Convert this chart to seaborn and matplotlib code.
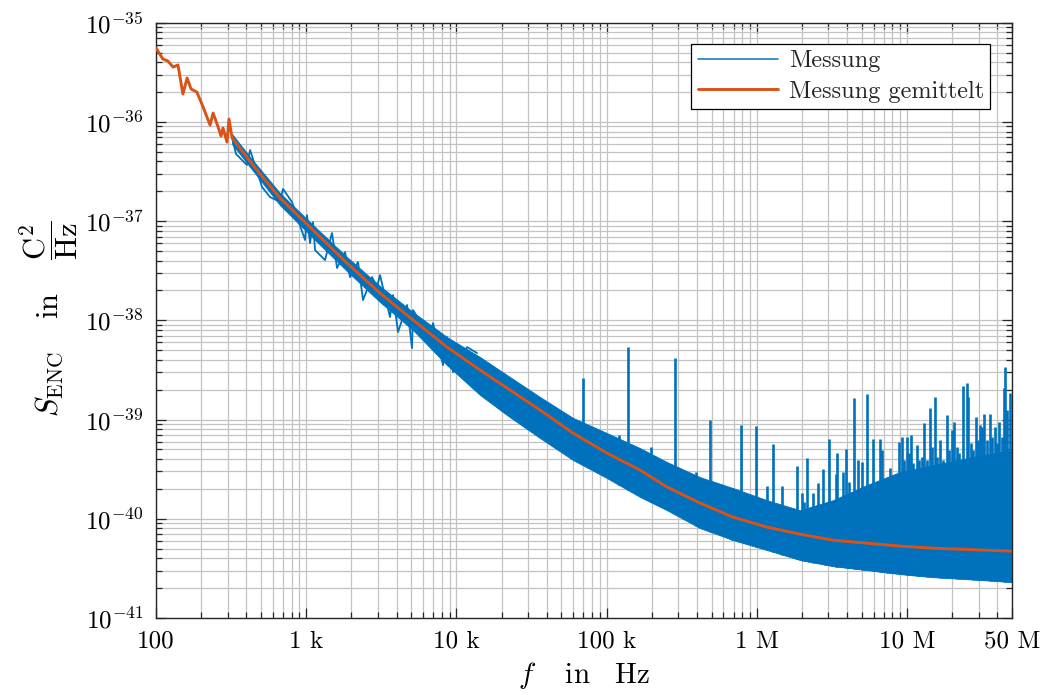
import numpy as np
import pandas as pd
import matplotlib
matplotlib.use("Agg")
import matplotlib.pyplot as plt
from matplotlib.lines import Line2D
import seaborn as sns

# averaged spectrum (Hz, C^2/Hz)
avg_f = [100, 111, 120, 130, 140, 151, 161, 171, 187, 206, 229, 240, 259, 271, 279,
         297, 306, 321, 470, 669, 1110, 1868, 3099, 5141, 8656, 14360, 21720, 36030,
         59760, 100600, 166900, 252500, 418600, 694300, 1.169e6, 1.939e6, 3.217e6,
         5.415e6, 8.98e6, 1.49e7, 3.21e7, 5.0e7]
avg_s = [5.56e-36, 4.31e-36, 4.11e-36, 3.57e-36, 3.75e-36, 1.91e-36, 2.77e-36, 2.15e-36,
         2.00e-36, 1.41e-36, 9.3e-37, 1.23e-36, 8.89e-37, 7.21e-37, 8.69e-37, 6.27e-37,
         1.07e-36, 6.89e-37, 3.27e-37, 1.71e-37, 8.13e-38, 3.78e-38, 1.88e-38, 1.01e-38,
         5.38e-39, 3.16e-39, 2.08e-39, 1.25e-39, 7.31e-40, 4.59e-40, 3.10e-40, 2.09e-40,
         1.44e-40, 1.04e-40, 8.24e-41, 7.00e-41, 6.09e-41, 5.68e-41, 5.30e-41, 5.06e-41,
         4.83e-41, 4.72e-41]

# raw measurement, low-frequency part: local maxima / minima of the trace
raw_f = [321, 341, 403, 423, 508, 574, 669, 701, 804, 982, 1012, 1060, 1110, 1145,
         1334, 1485, 1604, 1813, 1957, 2213, 2388, 2742, 2961, 3099, 3614, 3784, 4086,
         4690, 5062, 5141, 6674, 6988, 8143, 8656, 9493, 11770, 13720]
raw_s = [6.88e-37, 4.75e-37, 3.68e-37, 5.21e-37, 2.21e-37, 1.75e-37, 1.56e-37, 2.11e-37,
         1.56e-37, 6.45e-38, 1.15e-37, 6.01e-38, 9.79e-38, 5.11e-38, 4.05e-38, 7.59e-38,
         3.37e-38, 4.88e-38, 2.73e-38, 3.87e-38, 1.60e-38, 2.73e-38, 2.17e-38, 2.86e-38,
         1.08e-38, 1.80e-38, 7.62e-39, 1.43e-38, 5.26e-39, 1.27e-38, 6.79e-39, 9.39e-39,
         3.54e-39, 6.79e-39, 3.01e-39, 5.38e-39, 4.68e-39]

# raw measurement: dense noise band (upper / lower limits)
band_f = [321, 423, 669, 1110, 1868, 3099, 5141, 8656, 14360, 21720, 36030, 59760,
          100600, 166900, 252500, 418600, 694300, 1.169e6, 1.939e6, 3.217e6, 5.415e6,
          8.98e6, 1.49e7, 3.21e7, 5.0e7]
band_hi = [7.55e-37, 4.43e-37, 1.92e-37, 9.14e-38, 4.35e-38, 2.22e-38, 1.21e-38, 6.79e-39,
           4.27e-39, 2.81e-39, 1.69e-39, 1.04e-39, 7.31e-40, 5.16e-40, 3.73e-40, 2.63e-40,
           2.04e-40, 1.54e-40, 1.22e-40, 1.54e-40, 2.19e-40, 2.96e-40, 3.48e-40, 4.39e-40,
           4.93e-40]
band_lo = [5.99e-37, 3.51e-37, 1.45e-37, 6.76e-38, 3.14e-38, 1.53e-38, 7.98e-39, 3.54e-39,
           1.77e-39, 1.11e-39, 6.51e-40, 3.91e-40, 2.57e-40, 1.66e-40, 1.22e-40, 8.06e-41,
           6.10e-41, 4.84e-41, 3.84e-41, 3.33e-41, 3.04e-41, 2.77e-41, 2.58e-41, 2.41e-41,
           2.30e-41]

# raw measurement: peaks rising out of the band
peak_f = [6.97e4, 1.21e5, 1.39e5, 1.97e5, 2.85e5, 3.94e5, 4.88e5, 6.84e5, 7.85e5, 9.88e5,
          1.17e6, 1.28e6, 1.47e6, 1.85e6,
          1.99e6, 2.06e6, 2.15e6, 2.24e6, 2.38e6, 2.48e6, 2.57e6, 2.66e6, 2.75e6, 2.85e6,
          3.02e6, 3.15e6, 3.37e6, 3.44e6, 3.58e6, 3.73e6, 3.93e6, 4.13e6, 4.28e6, 4.44e6,
          4.58e6, 4.74e6, 5.02e6, 5.20e6, 5.39e6, 5.67e6, 5.91e6, 6.12e6, 6.35e6, 6.61e6,
          6.78e6, 7.14e6, 7.40e6, 7.70e6, 8.03e6, 8.32e6, 8.89e6, 9.21e6, 9.55e6, 9.95e6,
          1.03e7, 1.06e7, 1.10e7, 1.16e7, 1.20e7, 1.25e7, 1.30e7, 1.35e7, 1.42e7, 1.47e7,
          1.54e7, 1.59e7, 1.66e7, 1.73e7, 1.84e7, 1.90e7, 1.98e7, 2.06e7, 2.14e7, 2.23e7,
          2.37e7, 2.50e7, 2.56e7, 2.65e7, 2.76e7, 2.87e7, 2.95e7, 3.06e7, 3.17e7, 3.26e7,
          3.39e7, 3.57e7, 3.70e7, 3.85e7, 4.00e7, 4.12e7, 4.27e7, 4.42e7, 4.49e7, 4.66e7,
          4.85e7]
peak_s = [2.62e-39, 6.98e-40, 5.38e-39, 5.28e-40, 4.17e-39, 2.96e-40, 9.89e-40, 2.04e-40,
          8.80e-40, 8.60e-40, 2.14e-40, 5.66e-40, 2.14e-40, 3.40e-40,
          1.80e-40, 1.48e-40, 4.06e-40, 1.09e-40, 1.80e-40, 1.13e-40, 2.27e-40, 1.18e-40,
          3.15e-40, 1.18e-40, 6.31e-40, 1.05e-40, 2.82e-40, 4.56e-40, 9.70e-41, 2.98e-40,
          5.00e-40, 2.36e-40, 1.43e-40, 1.66e-39, 9.70e-41, 3.91e-40, 3.76e-40, 1.54e-40,
          1.81e-39, 9.70e-41, 6.31e-40, 1.80e-40, 1.05e-40, 6.31e-40, 4.93e-40, 2.46e-40,
          2.10e-40, 3.22e-40, 2.10e-40, 2.46e-40, 5.98e-40, 6.71e-40, 3.91e-40, 6.71e-40,
          4.56e-40, 6.98e-40, 3.61e-40, 5.53e-40, 3.91e-40, 4.22e-40, 9.15e-40, 3.91e-40,
          1.30e-39, 5.32e-40, 1.70e-39, 4.22e-40, 6.21e-40, 3.91e-40, 1.11e-39, 4.93e-40,
          7.84e-40, 9.51e-40, 5.32e-40, 4.56e-40, 2.18e-39, 2.32e-39, 1.70e-39, 5.75e-40,
          4.93e-40, 1.07e-39, 6.21e-40, 8.80e-40, 8.47e-40, 1.15e-39, 6.21e-40, 1.15e-39,
          6.71e-40, 8.47e-40, 5.75e-40, 9.51e-40, 6.71e-40, 2.06e-39, 3.40e-39, 1.25e-39,
          1.84e-39]

x_major = [1e2, 1e3, 1e4, 1e5, 1e6, 1e7, 5e7]
x_labels = ["100", "1 k", "10 k", "100 k", "1 M", "10 M", "50 M"]
y_exponents = [-41, -40, -39, -38, -37, -36, -35]

BLUE = "#0072BD"
ORANGE = "#D95319"
AX_COLOR = "#262626"
GRID = "#c3c3c3"

sns.set_theme(style="ticks")
plt.rcParams["font.family"] = ["cmr10", "DejaVu Serif"]
plt.rcParams["mathtext.fontset"] = "cm"
plt.rcParams["axes.formatter.use_mathtext"] = True
plt.rcParams["axes.unicode_minus"] = False

fig = plt.figure(figsize=(10.45, 6.95), dpi=100)
ax = fig.add_axes([0.1493, 0.1108, 0.8191, 0.8565])
ax.set_xscale("log")
ax.set_yscale("log")

# noise band of the raw measurement
ax.fill_between(band_f, band_lo, band_hi, color=BLUE, lw=0.6, edgecolor=BLUE, zorder=2)

# jagged trace at low frequencies
df_raw = pd.DataFrame({"f": raw_f, "S": raw_s})
sns.lineplot(data=df_raw, x="f", y="S", color=BLUE, lw=1.3, ax=ax, sort=False,
             zorder=2, legend=False)

# peaks rising out of the band
log_base = np.interp(np.log10(peak_f), np.log10(band_f), np.log10(band_lo))
ax.vlines(peak_f, 10 ** log_base, peak_s, color=BLUE, lw=1.9, zorder=2)

# averaged curve
df_avg = pd.DataFrame({"f": avg_f, "S": avg_s})
sns.lineplot(data=df_avg, x="f", y="S", color=ORANGE, lw=2.1, ax=ax, zorder=3,
             legend=False)

ax.set_xlim(100, 5e7)
ax.set_ylim(1e-41, 1e-35)

# x ticks
x_minor = [m * 10 ** d for d in range(2, 8) for m in range(2, 10) if m * 10 ** d < 5e7]
ax.set_xticks(x_major)
ax.set_xticklabels(x_labels)
ax.set_xticks(x_minor, minor=True)
ax.xaxis.set_minor_formatter(plt.NullFormatter())

# y ticks
y_major = [10.0 ** e for e in y_exponents]
y_minor = [m * 10.0 ** e for e in y_exponents[:-1] for m in range(2, 10)]
ax.set_yticks(y_major)
ax.set_yticklabels([r"$10^{%d}$" % e for e in y_exponents])
ax.set_yticks(y_minor, minor=True)
ax.yaxis.set_minor_formatter(plt.NullFormatter())

ax.tick_params(which="both", direction="in", top=True, right=True, colors=AX_COLOR,
               width=0.9)
ax.tick_params(which="major", length=7, labelsize=18, pad=9)
ax.tick_params(which="minor", length=4)
for lab in ax.get_xticklabels() + ax.get_yticklabels():
    lab.set_color("black")

ax.grid(True, which="major", color=GRID, lw=0.9, zorder=0)
ax.grid(True, which="minor", color=GRID, lw=0.9, zorder=0)
ax.set_axisbelow(True)
for sp in ax.spines.values():
    sp.set_color(AX_COLOR)
    sp.set_linewidth(1.0)
    sp.set_visible(True)

ax.set_xlabel(r"$f\quad\;\mathrm{in}\quad\mathrm{Hz}$", fontsize=21, color="black")
ax.xaxis.set_label_coords(0.5, -0.071)
ax.set_ylabel(r"$S_{\mathrm{ENC}}\quad\,\mathrm{in}\quad\;\dfrac{\mathrm{C}^2}{\mathrm{Hz}}$",
              fontsize=22, color="black")
ax.yaxis.set_label_coords(-0.089, 0.503)

handles = [Line2D([], [], color=BLUE, lw=1.1), Line2D([], [], color=ORANGE, lw=2.1)]
leg = ax.legend(handles, ["Messung", "Messung gemittelt"], loc="upper right",
                bbox_to_anchor=(0.9743, 0.9642), fontsize=17.5, frameon=True,
                fancybox=False, edgecolor="black", framealpha=1, handlelength=3.3,
                borderpad=0.25, labelspacing=0.35, handletextpad=0.45, borderaxespad=0)
leg.get_frame().set_linewidth(0.9)

fig.savefig("out.png", dpi=100)
